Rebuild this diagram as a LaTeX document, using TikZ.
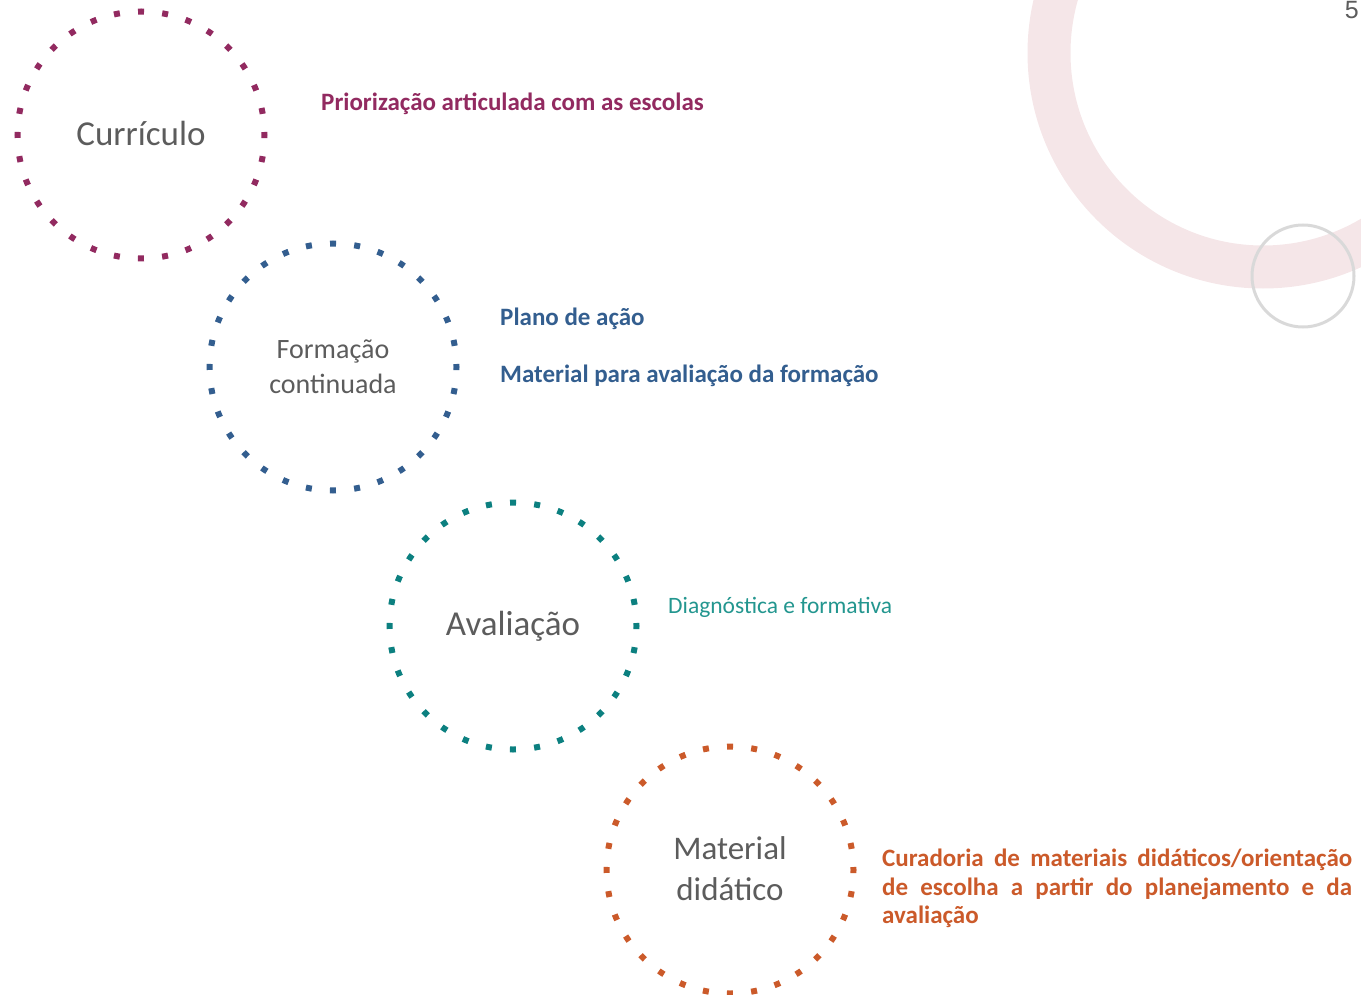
\documentclass[tikz,border=0pt]{standalone}
\usepackage{fontspec}
\setmainfont{Carlito}
\newfontfamily\numfont{Liberation Sans}
\definecolor{cmaroon}{HTML}{922A60}
\definecolor{cblue}{HTML}{335E8F}
\definecolor{cteal}{HTML}{0C8080}
\definecolor{ctealtxt}{HTML}{23968F}
\definecolor{corange}{HTML}{CB5A2A}
\definecolor{cgraytxt}{HTML}{5C5C5C}
\definecolor{cring}{HTML}{F5E6E8}
\definecolor{csmall}{HTML}{D9D9D9}
\tikzset{
  dotring/.style={circle, minimum size=247pt, inner sep=0pt, line width=6pt,
    dash pattern=on 6pt off 18.25pt, dash phase=3pt, draw=#1,
    text=cgraytxt, align=center},
  circlabel/.style={font=\fontsize{35}{40}\selectfont},
  smalllabel/.style={font=\fontsize{28}{35}\selectfont},
  boldlabel/.style={anchor=west, inner sep=0pt, font=\fontsize{25}{30}\selectfont\bfseries},
}
\begin{document}
\begin{tikzpicture}[x=1pt,y=-1pt]
\useasboundingbox (0,0) rectangle (1361,995);
\clip (0,0) rectangle (1361,995);
% decorative ring
\draw[cring, line width=43pt] (1263,53) circle (214pt);
\draw[csmall, line width=3pt] (1303,276) circle (51pt);
\node[anchor=north east, inner sep=0pt, text=cgraytxt, font=\numfont\fontsize{25}{28}\selectfont] (pg) at (1359,1) {5};
% circles
\node[dotring=cmaroon, circlabel] (curr) at (141,135) {\raisebox{4pt}{Currículo}};
\node[dotring=cblue, smalllabel] (form) at (333,367) {Formação\\continuada};
\node[dotring=cteal, circlabel] (aval) at (513,626) {Avaliação};
\node[dotring=corange, font=\fontsize{33}{41}\selectfont] (mat) at (730,870) {\raisebox{3pt}{Material}\\\raisebox{3pt}{didático}};
% labels
\node[boldlabel, text=cmaroon] (l1) at (321,104) {Priorização articulada com as escolas};
\node[boldlabel, text=cblue] (l2) at (500,319) {Plano de ação};
\node[boldlabel, text=cblue] (l3) at (500,376) {Material para avaliação da formação};
\node[anchor=west, inner sep=0pt, text=ctealtxt, font=\fontsize{23.5}{28}\selectfont] (l4) at (668,607) {Diagnóstica e formativa};
\node[anchor=north west, inner sep=0pt, align=left, text=corange,
  font=\fontsize{25}{28.5}\selectfont\bfseries] (l5) at (882,849)
  {\makebox[470pt][s]{Curadoria de materiais didáticos/orientação}\\
   \makebox[470pt][s]{de escolha a partir do planejamento e da}\\
   avaliação};
\end{tikzpicture}
\end{document}
